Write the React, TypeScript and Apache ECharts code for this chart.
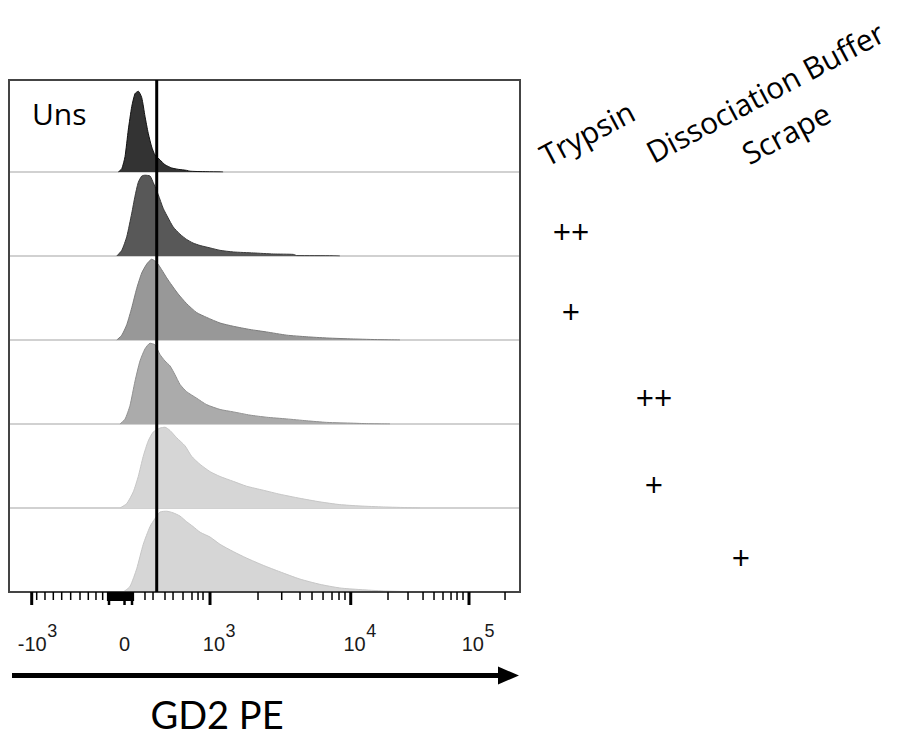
import React, { useEffect, useRef } from "react";
import * as echarts from "echarts";

// Display channel scale of the GD2 PE axis (biexponential display, 0..1024)
const AXIS_MIN = 0;
const AXIS_MAX = 1024;

const sampleNames = ["Uns", "Trypsin ++", "Trypsin +", "Dissociation Buffer ++", "Dissociation Buffer +", "Scrape +"];

// [display channel, % of mode]
const unsHist: [number, number][] = [
  [219, 0], [226, 4], [232.5, 19], [239, 52], [246, 81], [252.5, 97], [259, 100], [266, 92],
  [272.5, 69], [279, 48], [286, 31], [292.6, 21], [302.6, 15], [312.6, 9], [326, 5], [339.3, 3.3],
  [356, 2], [362.7, 1], [382.8, 0.5], [429, 0],
];
const trypsinHighHist: [number, number][] = [
  [216, 0], [226, 7], [236, 24], [246, 53], [252.5, 74], [259, 91], [266, 99], [272.5, 100],
  [282.6, 99], [289, 91], [299, 76], [309, 59], [319, 47], [329, 36], [342.7, 27], [356, 20.5],
  [369, 16], [383, 13], [403, 10], [423, 7], [449.5, 5], [489.6, 3.8], [529.7, 2.5], [569.7, 2],
  [576.5, 0.5], [649, 0.3], [663, 0],
];
const trypsinLowHist: [number, number][] = [
  [216, 0], [226, 6], [236, 19], [246, 40], [256, 64], [266, 83], [276, 94], [286, 100],
  [296, 96], [306, 87], [316, 77], [326, 68], [339, 57], [356, 45], [376, 34], [396, 28],
  [423, 21], [449.5, 17], [483, 13], [516, 10], [556.5, 6], [596.6, 4], [636.7, 2.5], [690, 1.3],
  [743.5, 0.4], [783.5, 0],
];
const dissocHighHist: [number, number][] = [
  [222.4, 0], [232.5, 6], [242.5, 23], [252.5, 53], [262.5, 78], [272.5, 93], [282.6, 100],
  [292.6, 98], [302.6, 86], [312.6, 78], [322.6, 72], [332.7, 61], [342.7, 49], [356, 40],
  [376, 32], [396, 24], [423, 18], [449.5, 15], [483, 11], [516, 8.4], [556.5, 6.3], [596.6, 4],
  [636.7, 2], [690, 1], [723.4, 0.3], [763.5, 0],
];
const dissocLowHist: [number, number][] = [
  [222.4, 0], [236, 5.5], [249, 20], [259, 39], [269, 64], [279, 83], [289, 94], [302.6, 99],
  [312.6, 100], [322.6, 96], [336, 87], [352.7, 77], [366, 64], [383, 54], [403, 45], [423, 39],
  [449.5, 33], [476, 27], [509.6, 22], [543, 17], [583, 12], [623, 7.6], [663, 4.2], [703.4, 2.5],
  [750, 1.3], [803.6, 0.4], [823.6, 0],
];
const scrapeHist: [number, number][] = [
  [229, 0], [242.5, 7], [256, 29], [269, 59], [282.6, 81], [292.6, 91], [302.6, 99], [316, 100],
  [329, 98], [342.7, 94], [356, 87], [369, 81], [383, 74], [403, 68], [423, 59], [449.5, 50],
  [476, 42], [509.6, 33], [543, 25], [583, 16], [623, 9.5], [663, 5], [703.4, 3], [750, 1.3],
  [803.6, 0.4], [823.6, 0],
];
const histograms = [unsHist, trypsinHighHist, trypsinLowHist, dissocHighHist, dissocLowHist, scrapeHist];

const histFills = ["#333333", "#585858", "#989898", "#ababab", "#d6d6d6", "#d6d6d6"];
const histLines = ["#111111", "#3a3a3a", "#7c7c7c", "#909090", "#c6c6c6", "#c6c6c6"];

// Gate position (display channel)
const gateChannel = 296;

// Axis ticks (display channels)
const majorTicks = [45.5, 402.8, 684.8, 921.8];
const zeroLongTicks = [200.4, 231.5, 246.5];
const zeroClusterTicks = [198.4, 202.4, 206.4, 210.4, 214.4, 218.4, 222.4, 226.5, 230.5, 234.5, 238.5, 242.5, 246.5, 248.5];
const minorTicks = [
  55.5, 72.1, 88.8, 105.6, 123.6, 142.3, 158.9, 174.3, 187.7,
  272.5, 288.6, 312.6, 328.7, 348.7, 366.7, 378.8, 388.8,
  499, 546.5, 583.2, 607.2, 629.3, 647.3, 661.3, 673.3,
  759.5, 799.6, 829.7, 851.7, 869.7, 885.8, 897.8, 909.8,
  994,
];
const tickLabelValues = [45.5, 231.5, 402.8, 684.8, 921.8];
const tickLabelBases = ["-10", "0", "10", "10", "10"];
const tickLabelExps = ["3", "", "3", "4", "5"];

const axisTitle = "GD2 PE";
const methodHeaders = ["Trypsin", "Dissociation Buffer", "Scrape"];
const intensityMarks = ["++", "+", "++", "+", "+"];

const TEXT_FONT = "'Open Sans', 'Noto Sans', sans-serif";
const TITLE_FONT = "Lato, 'Open Sans', sans-serif";
const TICK_FONT = "'Liberation Sans', Arial, sans-serif";

export default function App() {
  const ref = useRef<HTMLDivElement>(null);

  useEffect(() => {
    if (!ref.current) return;
    const chart = echarts.init(ref.current, undefined, { renderer: "svg" });

    const LEFT = 9;
    const WIDTH = 511;
    const ROW_H = 84;
    const ROW0_TOP = 88;

    const grids: any[] = [
      { left: LEFT, width: WIDTH, top: 80, height: 512, show: true, borderColor: "#444", borderWidth: 2, backgroundColor: "transparent", z: 8 },
    ];
    const xAxes: any[] = [
      { type: "value", gridIndex: 0, min: AXIS_MIN, max: AXIS_MAX, show: false },
    ];
    const yAxes: any[] = [
      { type: "value", gridIndex: 0, min: 0, max: 1, show: false },
    ];
    const series: any[] = [];

    histograms.forEach((hist, i) => {
      grids.push({ left: LEFT, width: WIDTH, top: ROW0_TOP + i * ROW_H, height: ROW_H });
      xAxes.push({
        type: "value", gridIndex: i + 1, min: AXIS_MIN, max: AXIS_MAX,
        axisLine: { show: i < histograms.length - 1, lineStyle: { color: "#c2c2c2", width: 1.5 } },
        axisTick: { show: false }, axisLabel: { show: false }, splitLine: { show: false },
      });
      yAxes.push({ type: "value", gridIndex: i + 1, min: 0, max: 104, show: false });
      series.push({
        name: sampleNames[i],
        type: "line",
        xAxisIndex: i + 1,
        yAxisIndex: i + 1,
        data: hist,
        symbol: "none",
        smooth: 0.2,
        z: 3,
        lineStyle: { color: histLines[i], width: 1 },
        areaStyle: { color: histFills[i], opacity: 1 },
        silent: true,
      });
    });

    // gate line across all rows
    series.push({
      type: "line",
      xAxisIndex: 0,
      yAxisIndex: 0,
      data: [[gateChannel, 0], [gateChannel, 1]],
      symbol: "none",
      lineStyle: { color: "#000", width: 3 },
      z: 10,
      silent: true,
    });

    const tickSeries = (values: number[], len: number, width: number) => ({
      type: "custom",
      xAxisIndex: 0,
      yAxisIndex: 0,
      clip: false,
      silent: true,
      z: 9,
      data: values.map((v) => [v, 0]),
      renderItem: (_p: any, api: any) => {
        const p = api.coord([api.value(0), 0]);
        return {
          type: "line",
          shape: { x1: p[0], y1: p[1], x2: p[0], y2: p[1] + len },
          style: { stroke: "#000", lineWidth: width },
        };
      },
    });
    series.push(tickSeries(majorTicks, 13, 3));
    series.push(tickSeries(zeroLongTicks, 13, 2.5));
    series.push(tickSeries(zeroClusterTicks, 9, 2.2));
    series.push(tickSeries(minorTicks, 8, 1.5));

    series.push({
      type: "custom",
      xAxisIndex: 0,
      yAxisIndex: 0,
      clip: false,
      silent: true,
      z: 9,
      data: tickLabelValues.map((v) => [v, 0]),
      renderItem: (params: any, api: any) => {
        const p = api.coord([api.value(0), 0]);
        const base = tickLabelBases[params.dataIndex];
        const exp = tickLabelExps[params.dataIndex];
        if (!exp) {
          return {
            type: "text",
            x: p[0],
            y: p[1] + 51.5,
            style: { text: base, align: "center", verticalAlign: "middle", fontSize: 20, fontFamily: TICK_FONT, fill: "#1a1a1a" },
          };
        }
        return {
          type: "group",
          children: [
            {
              type: "text",
              x: p[0] + 15,
              y: p[1] + 51.5,
              style: { text: base, align: "right", verticalAlign: "middle", fontSize: 20, fontFamily: TICK_FONT, fill: "#1a1a1a" },
            },
            {
              type: "text",
              x: p[0] + 15.5,
              y: p[1] + 39,
              style: { text: exp, align: "left", verticalAlign: "middle", fontSize: 18, fontFamily: TICK_FONT, fill: "#1a1a1a" },
            },
          ],
        };
      },
    });

    const rot = (28 * Math.PI) / 180;
    const headerPos = [[587, 133], [765, 92], [786, 133]];
    const markPos = [[571, 231], [571, 311], [654, 397], [654, 484], [741, 557]];

    const graphic: any[] = [
      {
        type: "text", x: 32, y: 113, z: 20,
        style: { text: sampleNames[0], fontSize: 30, fontFamily: TEXT_FONT, fill: "#000", align: "left", verticalAlign: "middle" },
      },
      ...methodHeaders.map((h, i) => ({
        type: "text", x: headerPos[i][0], y: headerPos[i][1], rotation: rot, z: 20,
        style: { text: h, fontSize: 30, fontFamily: TEXT_FONT, fill: "#000", align: "center", verticalAlign: "middle" },
      })),
      ...intensityMarks.map((m, i) => ({
        type: "text", x: markPos[i][0], y: markPos[i][1], z: 20,
        style: { text: m, fontSize: 32, fontFamily: TEXT_FONT, fill: "#000", align: "center", verticalAlign: "middle" },
      })),
      { type: "line", z: 20, shape: { x1: 12, y1: 675.5, x2: 502, y2: 675.5 }, style: { stroke: "#000", lineWidth: 5 } },
      { type: "polygon", z: 20, shape: { points: [[498, 666.5], [519, 675.5], [498, 684.5]] }, style: { fill: "#000" } },
      {
        type: "text", x: 217, y: 714, z: 20,
        style: { text: axisTitle, fontSize: 38, lineHeight: 38, fontFamily: TITLE_FONT, fill: "#000", align: "center", verticalAlign: "middle" },
      },
    ];

    chart.setOption({
      animation: false,
      backgroundColor: "#fff",
      grid: grids,
      xAxis: xAxes,
      yAxis: yAxes,
      series,
      graphic,
    });

    return () => chart.dispose();
  }, []);

  return <div ref={ref} style={{ position: "fixed", left: 0, top: 0, width: 902, height: 738 }} />;
}
